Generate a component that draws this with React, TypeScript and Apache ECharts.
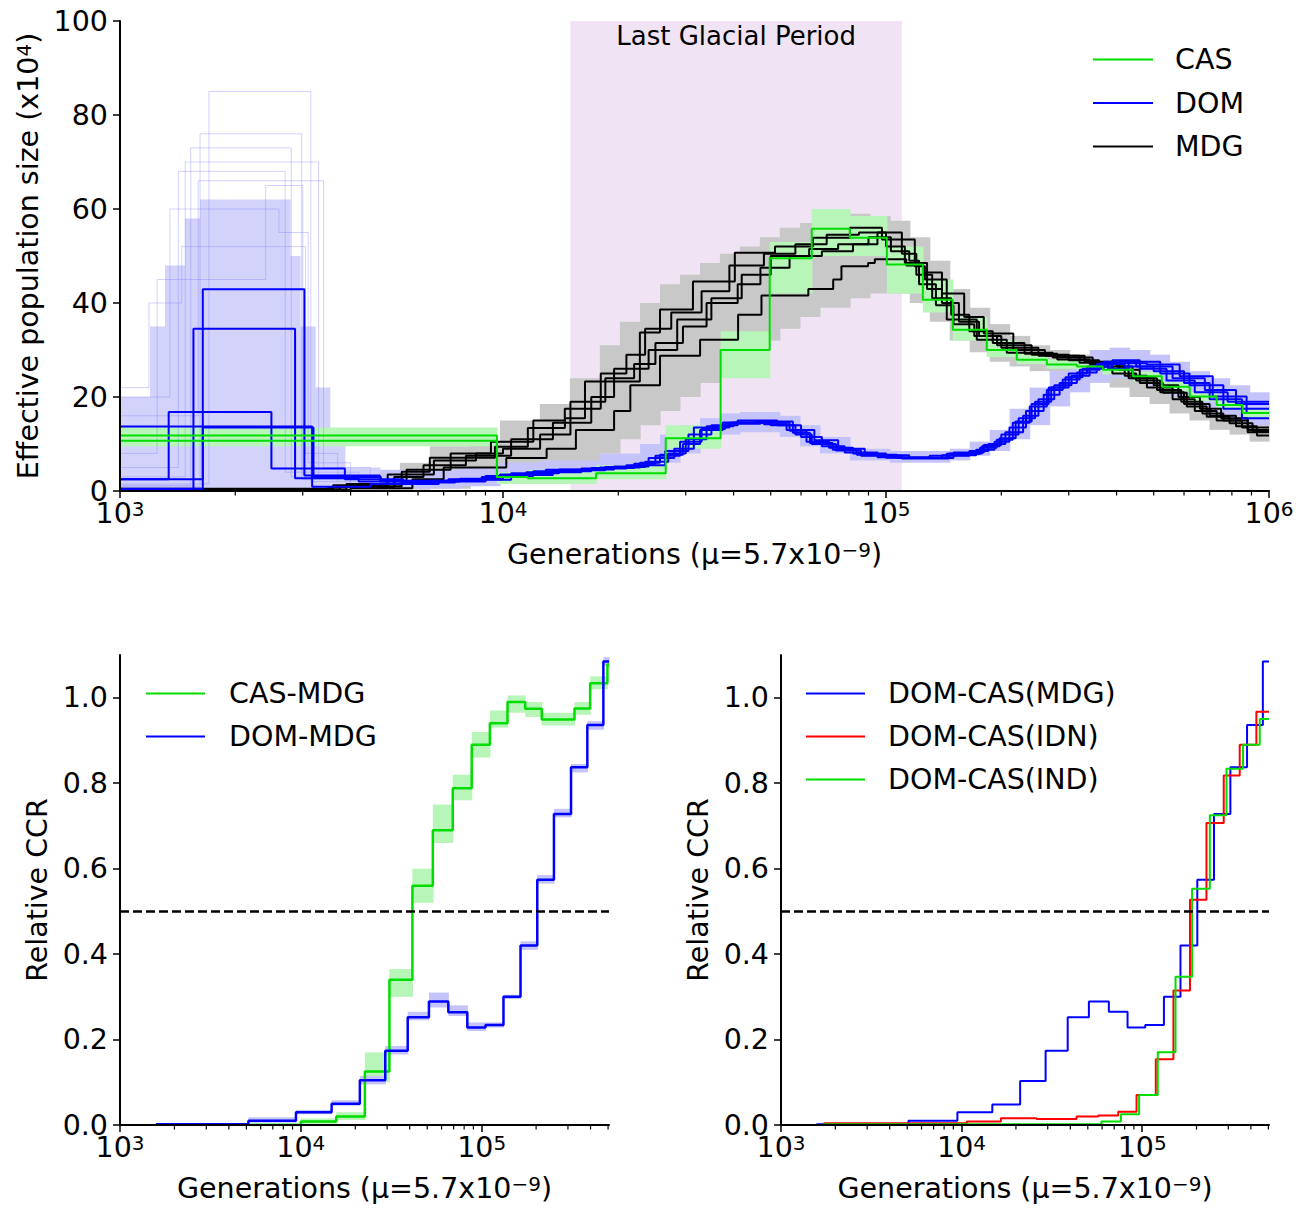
import React, { useEffect, useRef } from 'react';
import * as echarts from 'echarts';

const FONT = 'DejaVu Sans';
const GREEN = '#00dd00';
const BLUE = '#0000ff';
const BLACK = '#000000';
const RED = '#ff0000';

// ---------- Top panel: effective population size (x1e4) vs generations ----------
const TOP_X_MIN = 1000;
const TOP_X_MAX = 1000000;
const TOP_Y_TICKS = [0, 20, 40, 60, 80, 100];
const TOP_MINOR_TICKS = [2000, 3000, 4000, 5000, 6000, 7000, 8000, 9000, 20000, 30000, 40000, 50000, 60000, 70000, 80000, 90000, 200000, 300000, 400000, 500000, 600000, 700000, 800000, 900000];
const LGP_START = 15000;
const LGP_END = 110000;

const CAS_MAIN = [[1000, 11.8], [9640, 3.0], [11600, 2.7], [17500, 3.8], [26600, 11.2], [37000, 30.0], [49700, 49.5], [64000, 55.8], [80500, 53.9], [100500, 48.2], [124800, 40.7], [149400, 34.3], [183300, 30.0], [219500, 27.9], [263000, 26.9], [315000, 26.5], [368000, 25.8], [441000, 24.4], [525000, 22.2], [621000, 20.1], [730000, 18.3], [853000, 16.6], [1000000, 16.6]];
const CAS_SECOND = [[1000, 10.7], [9640, 3.0], [11600, 3.0]];

const DOM_1 = [[1000, 0.5], [1645, 42.9], [3030, 3.3], [4770, 2.0], [7720, 2.6], [9820, 3.5], [12940, 4.5], [17900, 5.0], [22800, 6.0], [25700, 7.7], [29500, 10.0], [32700, 13.0], [37500, 14.6], [46000, 14.8], [57100, 12.4], [63300, 10.2], [72600, 8.8], [83900, 7.7], [106700, 7.0], [144000, 7.9], [176000, 9.2], [194600, 10.9], [214300, 14.5], [237300, 18.0], [263000, 21.5], [289300, 23.7], [320500, 25.8], [361400, 27.2], [479400, 26.9], [584500, 24.4], [713000, 20.1], [874000, 16.6], [1000000, 16.6]];
const DOM_2 = [[1000, 0.4], [1555, 34.5], [2865, 2.7], [4200, 2.0], [6500, 2.2], [8800, 3.0], [11500, 4.0], [16000, 4.8], [21000, 5.5], [26500, 8.5], [30500, 12.0], [35000, 14.0], [41000, 15.0], [52000, 14.0], [60000, 11.5], [68000, 9.5], [78000, 8.2], [95000, 7.2], [130000, 7.5], [165000, 8.5], [185000, 10.0], [205000, 12.5], [228000, 16.0], [250000, 19.5], [275000, 22.5], [305000, 24.5], [340000, 26.5], [390000, 27.8], [460000, 26.0], [540000, 23.5], [640000, 21.0], [780000, 19.0], [1000000, 19.0]];
const DOM_3 = [[1000, 2.5], [1340, 16.8], [2485, 4.8], [3865, 2.5], [5500, 1.8], [7500, 2.4], [10500, 3.8], [14000, 4.6], [19500, 5.2], [24000, 7.0], [28000, 9.0], [31500, 13.5], [39000, 14.5], [48000, 14.2], [55000, 13.0], [65000, 10.8], [75000, 9.0], [88000, 7.6], [115000, 7.0], [150000, 8.2], [180000, 9.8], [200000, 12.0], [222000, 15.5], [245000, 19.0], [270000, 22.0], [300000, 25.0], [335000, 26.5], [380000, 26.0], [430000, 27.5], [520000, 25.0], [620000, 22.5], [760000, 17.5], [1000000, 17.5]];
const DOM_4 = [[1000, 13.7], [3175, 0.9], [4500, 1.5], [6800, 2.0], [9000, 3.2], [12000, 4.2], [17000, 4.9], [22000, 5.8], [25000, 7.5], [29000, 10.5], [33000, 13.2], [38000, 14.3], [47000, 14.5], [56000, 12.8], [62000, 10.5], [71000, 9.2], [82000, 8.0], [100000, 7.1], [140000, 7.6], [172000, 8.8], [192000, 10.5], [210000, 13.5], [232000, 17.0], [258000, 20.5], [284000, 23.0], [315000, 25.2], [355000, 27.0], [420000, 26.5], [500000, 25.5], [600000, 23.0], [700000, 19.5], [850000, 15.5], [1000000, 15.5]];
const DOM_5 = [[1000, 2.5], [1645, 13.5], [3200, 3.0], [4800, 2.2], [7200, 2.5], [10000, 3.4], [13500, 4.4], [18500, 5.1], [23500, 6.2], [27000, 8.0], [30000, 11.0], [34000, 13.8], [40000, 14.6], [50000, 14.0], [58000, 12.0], [64000, 10.0], [74000, 8.6], [86000, 7.5], [110000, 6.9], [146000, 8.0], [178000, 9.5], [198000, 11.2], [218000, 14.8], [240000, 18.5], [266000, 22.0], [294000, 24.2], [326000, 26.0], [370000, 27.5], [450000, 26.5], [560000, 24.0], [680000, 21.5], [820000, 18.5], [1000000, 18.5]];

const MDG_1 = [[1000, 0.3], [3750, 1.0], [5440, 4.1], [6440, 7.1], [9530, 9.4], [11610, 13.4], [14510, 15.5], [16370, 23.3], [22770, 33.7], [25700, 38.6], [31330, 44.6], [40300, 50.7], [51300, 52.0], [64450, 53.9], [80500, 56.0], [97600, 53.5], [118900, 47.8], [126300, 45.0], [144100, 36.5], [172600, 32.2], [206700, 29.4], [272500, 28.4], [346500, 27.2], [407400, 25.8], [459800, 23.0], [528400, 20.9], [610000, 18.0], [687600, 15.8], [789000, 14.4], [906000, 12.6], [1000000, 12.6]];
const MDG_2 = [[1000, 0.2], [4000, 0.6], [5800, 2.5], [7000, 5.0], [10200, 7.0], [13000, 9.0], [15500, 13.0], [19500, 17.0], [21500, 22.5], [25700, 28.8], [32700, 32.2], [41100, 37.5], [47300, 41.6], [62700, 43.0], [72800, 45.0], [76500, 47.8], [89800, 48.5], [93500, 49.3], [113000, 48.0], [125000, 46.5], [140000, 42.0], [160000, 37.0], [180000, 33.5], [215000, 30.0], [260000, 28.8], [330000, 27.5], [400000, 26.5], [440000, 24.0], [510000, 21.5], [590000, 19.0], [670000, 16.5], [760000, 15.0], [880000, 13.0], [1000000, 13.0]];
const MDG_3 = [[1000, 0.4], [3500, 0.8], [5200, 3.0], [6200, 5.5], [8000, 7.5], [10500, 11.0], [13500, 14.5], [17000, 20.0], [19500, 26.0], [24000, 30.0], [28500, 36.5], [35000, 41.0], [42000, 46.0], [50000, 50.0], [63000, 51.5], [75000, 52.5], [90000, 54.0], [103000, 51.0], [115000, 49.0], [122000, 44.0], [135000, 39.5], [150000, 35.5], [170000, 33.0], [195000, 31.0], [240000, 29.0], [300000, 27.8], [360000, 26.5], [420000, 24.5], [480000, 22.0], [560000, 19.5], [640000, 17.0], [730000, 15.0], [850000, 13.5], [1000000, 13.5]];
const MDG_4 = [[1000, 0.3], [3900, 1.5], [5600, 4.5], [7300, 8.0], [9300, 10.5], [12000, 15.0], [14500, 17.5], [18000, 25.0], [21000, 29.0], [23500, 34.5], [27500, 38.0], [33000, 42.5], [39000, 48.0], [48000, 50.5], [58000, 52.5], [70000, 54.5], [85000, 55.0], [100000, 52.0], [112000, 48.5], [120000, 46.0], [132000, 41.0], [148000, 37.5], [165000, 34.0], [190000, 31.5], [230000, 29.2], [280000, 28.0], [340000, 27.0], [390000, 25.0], [450000, 23.5], [520000, 21.0], [600000, 18.5], [700000, 16.0], [820000, 13.8], [930000, 11.8], [1000000, 11.8]];
const MDG_5 = [[1000, 0.5], [3600, 1.2], [5000, 3.5], [6600, 6.5], [8500, 8.0], [10000, 9.0], [12500, 12.0], [15000, 19.0], [18500, 24.0], [22000, 27.0], [25000, 31.5], [29500, 35.0], [34000, 40.0], [41000, 44.0], [47000, 47.5], [56000, 50.0], [68000, 51.0], [82000, 52.5], [95000, 55.0], [110000, 50.5], [120000, 48.5], [128000, 43.0], [140000, 40.0], [155000, 36.0], [175000, 33.0], [200000, 30.5], [250000, 28.8], [320000, 27.3], [380000, 26.0], [430000, 24.0], [500000, 22.5], [580000, 20.0], [660000, 17.5], [750000, 15.5], [880000, 12.5], [1000000, 12.5]];

// bootstrap envelopes: [start generation, low, high]
const MDG_BAND = [[1000, 0, 0.8], [3530, 0, 2.0], [5380, 0.3, 6.0], [6440, 0.5, 9.5], [8200, 1.5, 10.5], [9820, 3.0, 15.0], [12480, 4.5, 18.5], [14950, 6.0, 24.0], [17900, 8.0, 31.0], [20200, 11.0, 36.0], [22800, 14.0, 40.0], [25700, 17.0, 44.0], [28970, 20.0, 46.0], [32700, 23.0, 48.5], [36840, 26.0, 50.5], [41540, 29.0, 52.0], [46840, 32.0, 54.0], [52800, 34.5, 56.0], [59600, 37.0, 57.0], [67200, 39.0, 58.0], [80500, 41.0, 59.0], [90800, 42.0, 58.5], [102400, 42.0, 57.5], [115400, 40.0, 54.0], [130100, 36.0, 49.0], [146700, 32.0, 43.0], [165400, 29.5, 39.0], [186500, 27.5, 35.5], [210300, 26.5, 33.0], [237200, 25.5, 31.0], [267500, 25.0, 30.0], [301600, 24.5, 29.0], [340100, 23.5, 28.5], [383500, 22.0, 27.5], [432500, 20.0, 26.0], [488000, 18.5, 24.5], [550000, 16.5, 23.0], [620000, 15.0, 21.0], [699600, 13.0, 19.5], [789000, 12.0, 18.0], [890000, 10.5, 16.5]];
const DOM_SPIKE_BAND = [[1000, 0, 20], [1198, 0, 35], [1311, 0, 48], [1478, 0, 58], [1618, 0, 62], [2780, 0, 50], [2950, 0, 35], [3230, 0, 22], [3530, 0, 10], [3865, 0.3, 5]];
const DOM_BAND = [[4770, 0.5, 4.5], [7720, 1.0, 5.0], [9820, 2.0, 6.0], [12480, 3.0, 6.5], [17900, 3.5, 8.0], [22800, 4.5, 10.0], [25700, 6.0, 12.0], [28970, 8.0, 14.0], [32700, 11.0, 15.5], [36840, 12.0, 16.5], [41540, 12.5, 16.8], [52800, 11.5, 16.0], [59600, 9.5, 14.0], [67200, 8.0, 11.5], [80500, 6.5, 9.0], [102400, 6.0, 8.5], [146700, 6.5, 9.0], [165400, 7.5, 10.5], [186500, 8.5, 13.0], [210300, 11.0, 17.5], [237200, 14.0, 22.0], [267500, 18.0, 25.5], [301600, 21.0, 28.5], [340100, 23.0, 30.0], [383500, 24.0, 30.5], [432500, 23.5, 30.0], [488000, 22.0, 29.0], [550000, 20.0, 27.5], [620000, 18.0, 25.5], [699600, 16.0, 24.0], [789000, 15.0, 22.5], [890000, 14.0, 21.0]];
const CAS_BAND = [[1000, 9.5, 13.5], [9640, 1.5, 4.0], [11600, 1.5, 4.5], [17500, 2.5, 5.5], [26600, 9.0, 14.0], [37000, 24.0, 34.0], [49700, 42.0, 53.0], [64000, 50.0, 60.0], [80500, 50.0, 58.5], [100500, 42.0, 52.0], [124800, 38.0, 45.0], [149400, 32.0, 37.0], [183300, 28.5, 32.0], [219500, 27.0, 29.5], [263000, 26.0, 28.0], [315000, 25.5, 27.5], [368000, 24.8, 26.8], [441000, 23.4, 25.4], [525000, 21.2, 23.2], [621000, 19.1, 21.1], [730000, 17.3, 19.3], [853000, 15.6, 17.6]];

// faint tall DOM bootstrap replicates in the recent spike
const DOM_FAINT = [
  [[1000, 1.5], [1707, 85], [3150, 2.0], [4500, 1.5]],
  [[1000, 1.0], [1618, 76], [2980, 2.5], [4400, 1.5]],
  [[1000, 1.2], [1530, 73], [2800, 3.0], [4300, 1.5]],
  [[1000, 5.0], [1420, 68], [2700, 4.0], [4200, 2.0]],
  [[1000, 3.0], [1480, 70], [3300, 3.0], [4600, 1.5]],
  [[1000, 8.0], [1250, 45], [2400, 65], [3000, 3.5], [4000, 1.5]],
  [[1000, 20.0], [1350, 60], [2600, 55], [3100, 6.0], [4000, 2.0]],
  [[1000, 16.0], [1600, 66], [3400, 5.0], [4500, 2.0]],
  [[1000, 22.0], [1190, 40], [1450, 52], [3050, 8.0], [3700, 2.0]],
];

// ---------- Bottom panels: relative CCR ----------
const BL_X_MAX = 506000;
const BR_X_MAX = 504000;
const CCR_Y_TICKS = [0, 0.2, 0.4, 0.6, 0.8, 1.0];
const BOTTOM_MINOR_TICKS = [2000, 3000, 4000, 5000, 6000, 7000, 8000, 9000, 20000, 30000, 40000, 50000, 60000, 70000, 80000, 90000, 200000, 300000, 400000, 500000];
const HALF_LINE = 0.5;

const CAS_MDG = [[5130, 0], [10000, 0.008], [15700, 0.02], [22600, 0.125], [30900, 0.34], [41400, 0.56], [53700, 0.69], [69200, 0.788], [88100, 0.89], [111000, 0.94], [139000, 0.99], [174000, 0.974], [215000, 0.949], [326000, 0.975], [398000, 1.034], [496000, 1.078], [506000, 1.078]];
const DOM_MDG = [[1580, 0.002], [5130, 0.01], [9400, 0.03], [14800, 0.05], [21200, 0.105], [29300, 0.174], [39000, 0.252], [51100, 0.289], [65400, 0.264], [83300, 0.228], [105000, 0.234], [132000, 0.30], [164000, 0.42], [203000, 0.574], [251000, 0.728], [312000, 0.837], [384000, 0.936], [471000, 1.085], [506000, 1.085]];
const CAS_MDG_BAND = [[5130, 0, 0.004], [10000, 0.003, 0.015], [15700, 0.012, 0.03], [22600, 0.1, 0.17], [30900, 0.3, 0.365], [41400, 0.52, 0.6], [53700, 0.66, 0.75], [69200, 0.76, 0.82], [88100, 0.86, 0.92], [111000, 0.93, 0.97], [139000, 0.965, 1.005], [174000, 0.955, 0.99], [215000, 0.935, 0.965], [326000, 0.96, 0.99], [398000, 1.02, 1.05], [496000, 1.07, 1.09]];
const DOM_MDG_BAND = [[1580, 0, 0.004], [5130, 0.005, 0.018], [9400, 0.025, 0.035], [14800, 0.045, 0.058], [21200, 0.095, 0.115], [29300, 0.165, 0.185], [39000, 0.245, 0.265], [51100, 0.275, 0.31], [65400, 0.255, 0.28], [83300, 0.22, 0.24], [105000, 0.228, 0.24], [132000, 0.295, 0.305], [164000, 0.41, 0.43], [203000, 0.565, 0.585], [251000, 0.72, 0.74], [312000, 0.825, 0.845], [384000, 0.925, 0.945], [471000, 1.075, 1.095]];

const DOM_CAS_MDG = [[1570, 0.002], [5080, 0.01], [9480, 0.03], [14800, 0.048], [21100, 0.103], [29200, 0.174], [38700, 0.252], [50700, 0.289], [65400, 0.265], [83000, 0.228], [104000, 0.234], [132000, 0.30], [163000, 0.42], [202000, 0.574], [250000, 0.728], [308000, 0.837], [381000, 0.936], [466000, 1.085], [504000, 1.085]];
const DOM_CAS_IDN = [[1720, 0.004], [10700, 0.008], [16500, 0.016], [26000, 0.014], [43300, 0.02], [57100, 0.022], [73700, 0.031], [93100, 0.07], [119000, 0.154], [149000, 0.315], [184000, 0.527], [227000, 0.707], [283000, 0.818], [347000, 0.89], [429000, 0.967], [504000, 0.967]];
const DOM_CAS_IND = [[1720, 0.002], [59500, 0.008], [76200, 0.025], [96200, 0.07], [122000, 0.17], [153000, 0.347], [189000, 0.553], [237000, 0.725], [293000, 0.834], [362000, 0.89], [448000, 0.95], [504000, 0.95]];

// ---------- helpers ----------
const TXT = 28.5;
const SUP = 20;
const SUP_STYLE = { fontSize: SUP, fontFamily: FONT, color: '#000', verticalAlign: 'top' };
const RICH = {
  b: { fontSize: TXT, fontFamily: FONT, color: '#000' },
  s: SUP_STYLE,
};
const logLabel = (v: number) => {
  const e = Math.log10(v);
  const r = Math.round(e);
  if (Math.abs(e - r) > 1e-6) return '';
  return '{b|10}{s|' + String(r) + '}';
};

const toRects = (arr: number[][], tEnd: number) =>
  arr.map((d, i) => [d[0], i < arr.length - 1 ? arr[i + 1][0] : tEnd, d[1], d[2]]);

const bandSeries = (rects: number[][], color: string, gi: number, z = 1) => ({
  type: 'custom',
  xAxisIndex: gi,
  yAxisIndex: gi,
  data: rects,
  encode: { x: [0, 1], y: [2, 3] },
  silent: true,
  z,
  renderItem: (_p: any, api: any) => {
    const a = api.coord([api.value(0), api.value(3)]);
    const b = api.coord([api.value(1), api.value(2)]);
    return {
      type: 'rect',
      shape: { x: a[0], y: a[1], width: b[0] - a[0] + 0.6, height: b[1] - a[1] },
      style: { fill: color },
    };
  },
});

const stepLine = (name: string, data: number[][], color: string, width: number, gi: number, opacity = 1, z = 3) => ({
  type: 'line',
  name,
  data,
  step: 'end',
  xAxisIndex: gi,
  yAxisIndex: gi,
  showSymbol: false,
  symbol: 'none',
  lineStyle: { color, width, opacity },
  itemStyle: { color },
  silent: true,
  clip: true,
  z,
});

const minorTickSeries = (ticks: number[], gi: number) => ({
  type: 'custom',
  xAxisIndex: gi,
  yAxisIndex: gi,
  data: ticks.map((t) => [t, 0]),
  encode: { x: 0, y: 1 },
  silent: true,
  clip: false,
  z: 10,
  renderItem: (_p: any, api: any) => {
    const c = api.coord([api.value(0), 0]);
    return {
      type: 'line',
      shape: { x1: c[0], y1: c[1], x2: c[0], y2: c[1] + 4.5 },
      style: { stroke: '#000', lineWidth: 1.2 },
    };
  },
});

const axisCommon = {
  axisLine: { show: true, onZero: false, lineStyle: { color: '#000', width: 2 } },
  axisTick: { show: true, length: 7, lineStyle: { color: '#000', width: 1.5 } },
  splitLine: { show: false },
  nameTextStyle: { fontSize: 28.5, fontFamily: FONT, color: '#000', rich: { s: SUP_STYLE } },
  z: 5,
};

const xLog = (gi: number, max: number, showMax: boolean) => ({
  ...axisCommon,
  type: 'log',
  logBase: 10,
  gridIndex: gi,
  min: 1000,
  max,
  name: 'Generations (μ=5.7x10{s|−9})',
  nameLocation: 'middle',
  nameGap: 49,
  axisLabel: { formatter: logLabel, rich: RICH, fontSize: TXT, fontFamily: FONT, color: '#000', margin: 8, showMaxLabel: showMax },
});

const yCCR = (gi: number) => ({
  ...axisCommon,
  type: 'value',
  gridIndex: gi,
  min: 0,
  max: 1.1,
  interval: 0.2,
  name: 'Relative CCR',
  nameLocation: 'middle',
  nameGap: 68,
  axisTick: { ...axisCommon.axisTick, customValues: CCR_Y_TICKS },
  axisLabel: {
    customValues: CCR_Y_TICKS,
    formatter: (v: number) => v.toFixed(1),
    fontSize: TXT,
    fontFamily: FONT,
    color: '#000',
    margin: 12,
  },
});

const legendCommon = {
  orient: 'vertical',
  padding: 0,
  itemWidth: 60,
  itemHeight: 28,
  itemGap: 14.5,
  selectedMode: false,
  itemStyle: { opacity: 0 },
  textStyle: { fontSize: TXT, fontFamily: FONT, color: '#000', padding: [0, 0, 0, 17] },
};

export default function App() {
  const ref = useRef<HTMLDivElement>(null);
  useEffect(() => {
    if (!ref.current) return;
    const chart = echarts.init(ref.current, null, { renderer: 'svg' });

    const series: any[] = [];
    // Last Glacial Period shading
    series.push({
      type: 'custom',
      xAxisIndex: 0,
      yAxisIndex: 0,
      data: [[LGP_START, LGP_END, 0, 100]],
      encode: { x: [0, 1], y: [2, 3] },
      silent: true,
      z: 0,
      renderItem: (_p: any, api: any) => {
        const a = api.coord([api.value(0), api.value(3)]);
        const b = api.coord([api.value(1), api.value(2)]);
        return {
          type: 'group',
          children: [
            { type: 'rect', shape: { x: a[0], y: a[1], width: b[0] - a[0], height: b[1] - a[1] }, style: { fill: '#f0e3f3' } },
            {
              type: 'text',
              style: {
                text: 'Last Glacial Period',
                x: (a[0] + b[0]) / 2,
                y: a[1] + 2,
                align: 'center',
                verticalAlign: 'top',
                fontSize: 26,
                fontFamily: FONT,
                fill: '#000',
              },
            },
          ],
        };
      },
    });
    series.push(bandSeries(toRects(MDG_BAND, TOP_X_MAX), '#c8c8c8', 0, 1));
    series.push(bandSeries(toRects(DOM_SPIKE_BAND, 4770), '#d2d2fb', 0, 1));
    series.push(bandSeries(toRects(DOM_BAND, TOP_X_MAX), '#c4c4fa', 0, 1));
    series.push(bandSeries(toRects(CAS_BAND, TOP_X_MAX), '#b8f5b8', 0, 1));
    DOM_FAINT.forEach((d, i) => series.push(stepLine('DOM bootstrap ' + i, d, '#7f7fff', 1, 0, 0.35, 2)));
    [MDG_1, MDG_2, MDG_3, MDG_4, MDG_5].forEach((d) => series.push(stepLine('MDG', d, BLACK, 2, 0)));
    [DOM_1, DOM_2, DOM_3, DOM_4, DOM_5].forEach((d) => series.push(stepLine('DOM', d, BLUE, 2, 0)));
    series.push(stepLine('CAS', CAS_MAIN, GREEN, 2, 0));
    series.push(stepLine('CAS', CAS_SECOND, GREEN, 2, 0));
    series.push(minorTickSeries(TOP_MINOR_TICKS, 0));

    // bottom-left
    series.push(bandSeries(toRects(CAS_MDG_BAND, BL_X_MAX), '#b8f5b8', 1, 1));
    series.push(bandSeries(toRects(DOM_MDG_BAND, BL_X_MAX), '#c4c4fa', 1, 1));
    const casMdg: any = stepLine('CAS-MDG', CAS_MDG, GREEN, 2.5, 1);
    casMdg.markLine = {
      silent: true,
      symbol: ['none', 'none'],
      label: { show: false },
      lineStyle: { color: '#000', width: 2.6, type: [9, 4] },
      data: [{ yAxis: HALF_LINE }],
    };
    series.push(casMdg);
    series.push(stepLine('DOM-MDG', DOM_MDG, BLUE, 2.5, 1));
    series.push(minorTickSeries(BOTTOM_MINOR_TICKS, 1));

    // bottom-right
    const dcm: any = stepLine('DOM-CAS(MDG)', DOM_CAS_MDG, BLUE, 2, 2);
    dcm.markLine = {
      silent: true,
      symbol: ['none', 'none'],
      label: { show: false },
      lineStyle: { color: '#000', width: 2.6, type: [9, 4] },
      data: [{ yAxis: HALF_LINE }],
    };
    series.push(dcm);
    series.push(stepLine('DOM-CAS(IDN)', DOM_CAS_IDN, RED, 2, 2));
    series.push(stepLine('DOM-CAS(IND)', DOM_CAS_IND, GREEN, 2, 2));
    series.push(minorTickSeries(BOTTOM_MINOR_TICKS.filter((t) => t <= BR_X_MAX), 2));

    const option: any = {
      animation: false,
      backgroundColor: '#ffffff',
      textStyle: { fontFamily: FONT },
      grid: [
        { left: 120, top: 21, width: 1149, height: 470 },
        { left: 120, top: 655, width: 489, height: 470 },
        { left: 781, top: 655, width: 488, height: 470 },
      ],
      xAxis: [xLog(0, TOP_X_MAX, true), xLog(1, BL_X_MAX, false), xLog(2, BR_X_MAX, false)],
      yAxis: [
        {
          ...axisCommon,
          type: 'value',
          gridIndex: 0,
          min: 0,
          max: 100,
          interval: 20,
          name: 'Effective population size (x10{s|4})',
          nameLocation: 'middle',
          nameGap: 77,
          axisTick: { ...axisCommon.axisTick, customValues: TOP_Y_TICKS },
          axisLabel: { customValues: TOP_Y_TICKS, fontSize: TXT, fontFamily: FONT, color: '#000', margin: 12 },
        },
        yCCR(1),
        yCCR(2),
      ],
      legend: [
        { ...legendCommon, left: 1092, top: 45, data: ['CAS', 'DOM', 'MDG'] },
        { ...legendCommon, left: 145, itemWidth: 59, itemGap: 14, top: 679, data: ['CAS-MDG', 'DOM-MDG'], textStyle: { ...legendCommon.textStyle, padding: [0, 0, 0, 19] } },
        { ...legendCommon, left: 805, itemWidth: 59, itemGap: 14, top: 679, data: ['DOM-CAS(MDG)', 'DOM-CAS(IDN)', 'DOM-CAS(IND)'], textStyle: { ...legendCommon.textStyle, padding: [0, 0, 0, 18] } },
      ],
      series,
    };
    chart.setOption(option);
    return () => chart.dispose();
  }, []);
  return <div ref={ref} style={{ position: 'fixed', left: 0, top: 0, width: 1307, height: 1209, background: '#fff' }} />;
}
